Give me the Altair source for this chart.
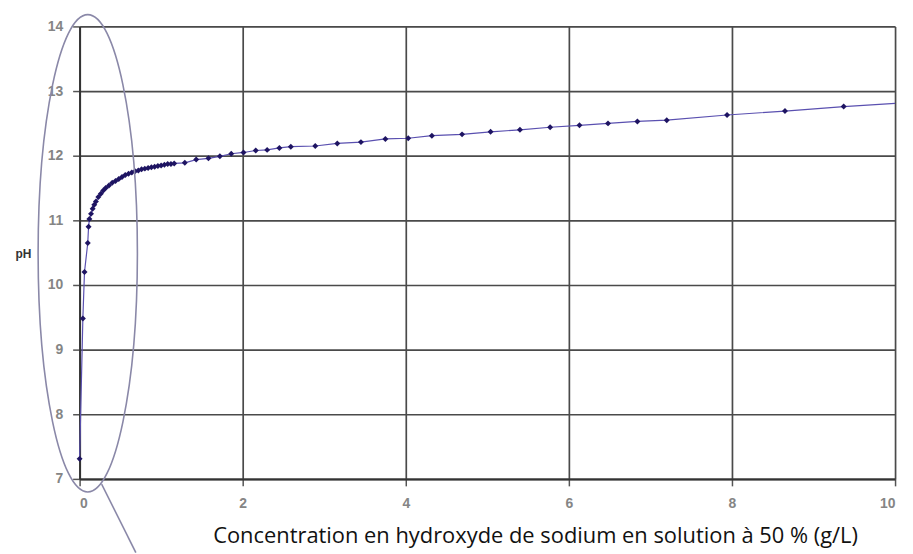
import altair as alt
import pandas as pd

# measured points (concentration g/L, pH)
conc = [0.00, 0.04, 0.06, 0.10, 0.11,
        0.12, 0.14, 0.16, 0.18, 0.20, 0.23, 0.26, 0.29, 0.32, 0.36,
        0.40, 0.44, 0.48, 0.52, 0.56, 0.60, 0.64, 0.68, 0.72, 0.76,
        0.80, 0.84, 0.88, 0.92, 0.96, 1.00, 1.04, 1.08, 1.12, 1.16,
        1.29, 1.43, 1.58, 1.72, 1.86, 2.01, 2.16, 2.30, 2.45, 2.59,
        2.89, 3.16, 3.45, 3.75, 4.03, 4.32, 4.69, 5.04, 5.40, 5.77,
        6.13, 6.48, 6.84, 7.20, 7.94, 8.65, 9.37]
ph = [7.31, 9.48, 10.20, 10.65, 10.90,
      11.02, 11.10, 11.18, 11.24, 11.29, 11.36, 11.41, 11.46, 11.50, 11.54,
      11.58, 11.61, 11.64, 11.67, 11.70, 11.72, 11.74, 11.76, 11.77, 11.79,
      11.80, 11.81, 11.82, 11.83, 11.84, 11.85, 11.86, 11.87, 11.87, 11.88,
      11.89, 11.94, 11.96, 11.99, 12.03, 12.05, 12.08, 12.09, 12.12, 12.14,
      12.15, 12.19, 12.21, 12.26, 12.27, 12.31, 12.33, 12.37, 12.40, 12.44,
      12.47, 12.50, 12.53, 12.55, 12.63, 12.69, 12.76]
# curve continues to the right edge
line_end_conc = [10.0]
line_end_ph = [12.81]

x_ticks = [0, 2, 4, 6, 8, 10]
y_ticks = [7, 8, 9, 10, 11, 12, 13, 14]

# annotation ellipse (centre) and leader line
ell_x = [0.1]
ell_y = [10.49]
lead_x = [0.27]
lead_y = [6.92]
lead_x2 = [0.69]
lead_y2 = [5.86]

pts = pd.DataFrame({"c": conc, "ph": ph})
line_df = pd.DataFrame({"c": conc + line_end_conc, "ph": ph + line_end_ph})
ell_df = pd.DataFrame({"c": ell_x, "ph": ell_y})
lead_df = pd.DataFrame({"c": lead_x, "ph": lead_y, "c2": lead_x2, "ph2": lead_y2})

xs = alt.Scale(domain=[0, 10], nice=False, zero=False)
ys = alt.Scale(domain=[7, 14], nice=False, zero=False)

x_axis = alt.Axis(values=x_ticks, format="d",
                  title="Concentration en hydroxyde de sodium en solution à 50 % (g/L)",
                  titleX=458, titleY=64, titleBaseline="alphabetic", titleAlign="center",
                  titleFont="Open Sans", titleFontSize=22, titleFontWeight="normal", titleColor="#111",
                  labelFont="Liberation Sans", labelFontSize=14, labelFontWeight="bold", labelColor="#858585",
                  labelPadding=11, tickSize=7, tickColor="#555", tickWidth=1.5,
                  domainColor="#333", domainWidth=2, gridColor="#4a4a4a", gridWidth=1.7)
y_axis = alt.Axis(values=y_ticks, format="d", title="pH", titleAngle=0, titleX=-57, titleY=228,
                  titleAlign="center", titleBaseline="middle",
                  titleFont="Liberation Sans", titleFontSize=12, titleFontWeight="bold", titleColor="#333",
                  labelFont="Liberation Sans", labelFontSize=14, labelFontWeight="bold", labelColor="#858585",
                  labelPadding=10, tickSize=7, tickColor="#555", tickWidth=1.5,
                  domainColor="#333", domainWidth=2, gridColor="#4a4a4a", gridWidth=1.7)

line = alt.Chart(line_df).mark_line(color="#5a50b0", strokeWidth=1.2).encode(
    x=alt.X("c:Q", scale=xs, axis=x_axis),
    y=alt.Y("ph:Q", scale=ys, axis=y_axis),
)
points = alt.Chart(pts).mark_point(shape="diamond", filled=True, color="#1e1462", size=36, opacity=1).encode(
    x=alt.X("c:Q", scale=xs),
    y=alt.Y("ph:Q", scale=ys),
)
ellipse_path = ("M 0 -1 C 0.115 -1 0.208 -0.552 0.208 0 C 0.208 0.552 0.115 1 0 1 "
                "C -0.115 1 -0.208 0.552 -0.208 0 C -0.208 -0.552 -0.115 -1 0 -1 Z")
ellipse = alt.Chart(ell_df).mark_point(shape=ellipse_path, filled=False, stroke="#8a88a8",
                                       strokeWidth=1.6, size=230400, opacity=1).encode(
    x=alt.X("c:Q", scale=xs),
    y=alt.Y("ph:Q", scale=ys),
)
leader = alt.Chart(lead_df).mark_rule(color="#8a88a8", strokeWidth=1.6).encode(
    x=alt.X("c:Q", scale=xs),
    y=alt.Y("ph:Q", scale=ys),
    x2="c2:Q",
    y2="ph2:Q",
)

chart = alt.layer(line, points, ellipse, leader).properties(
    width=820, height=455,
    autosize=alt.AutoSizeParams(type="none"),
    padding={"left": 72, "top": 17, "right": 10, "bottom": 74},
).configure_view(stroke="#999", strokeWidth=1.5).configure(background="white")

chart.save("out.html", embed_options={"renderer": "svg", "actions": False})
